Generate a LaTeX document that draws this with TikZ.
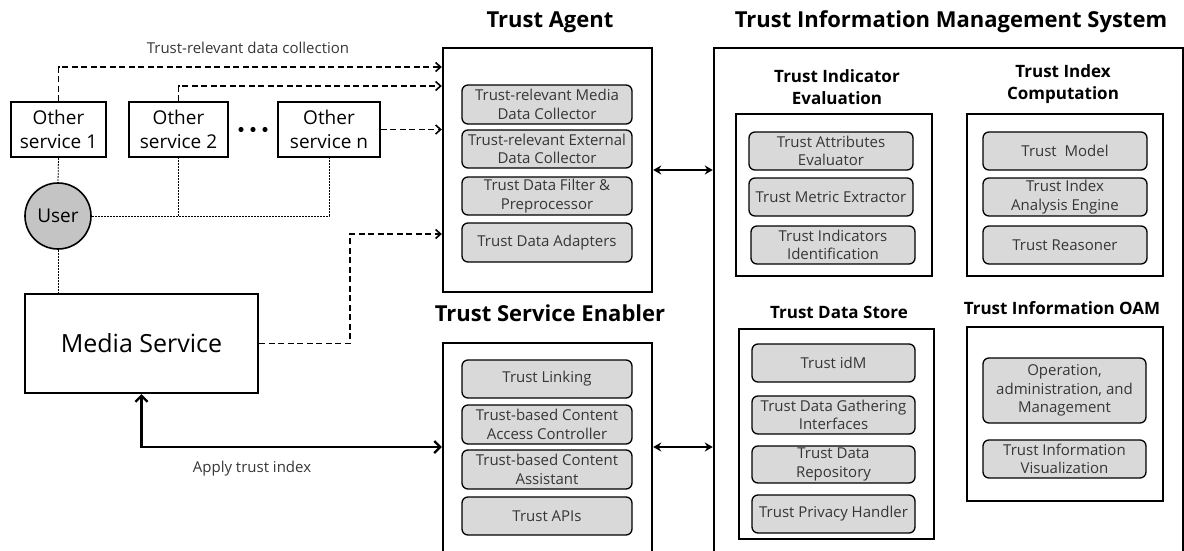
\documentclass[tikz,border=0pt]{standalone}
\usepackage{fontspec}
\setmainfont{Open Sans}
\usetikzlibrary{arrows.meta,calc}
\definecolor{compgray}{HTML}{D9D9D9}
\definecolor{usergray}{HTML}{C4C4C4}
\definecolor{comptext}{HTML}{363636}
% box from corner (x1,y1) to (x2,y2), in picture units (1 unit = 1pt, y downwards)
\newcommand\bx[7]{\node[#2, minimum width={(#5)-(#3)}, minimum height={(#6)-(#4)}] (#1) at ({((#3)+(#5))/2},{((#4)+(#6))/2}) {#7};}
\begin{document}
\begin{tikzpicture}[x=1pt,y=-1pt,
  outerbox/.style={draw, line width=2.4pt, inner sep=0pt},
  subbox/.style={draw, line width=1.3pt, inner sep=0pt},
  comp/.style={draw, line width=1.3pt, rounded corners=6pt, fill=compgray, inner sep=0pt, align=center, text=comptext, font=\fontsize{15}{18.5}\selectfont},
  svc/.style={draw, line width=1.6pt, inner sep=0pt, align=center, font=\fontsize{19}{23.5}\selectfont},
  bigtitle/.style={font=\bfseries\fontsize{22}{26}\selectfont},
  subtitle/.style={font=\bfseries\fontsize{17}{21.5}\selectfont, align=center},
  lbl/.style={font=\fontsize{15}{18}\selectfont, text=comptext},
  dasharrow/.style={dash pattern=on 6pt off 3.5pt, line width=1.6pt, -{Straight Barb[length=5pt,width=9pt,line width=1.6pt]}},
  dotline/.style={dash pattern=on 2pt off 1pt, line width=0.8pt},
  dblarrow/.style={line width=2pt, {Stealth[length=8pt,width=9pt]}-{Stealth[length=8pt,width=9pt]}},
  applyarrow/.style={line width=2.6pt, {Straight Barb[length=6pt,width=12pt,line width=2.2pt]}-{Straight Barb[length=6pt,width=12pt,line width=2.2pt]}}
]
\useasboundingbox (0,0) rectangle (1184,551);

% ---------- left side ----------
\bx{os1}{svc}{11}{102}{106}{157}{Other\\service 1}
\bx{os2}{svc}{129}{102}{228}{157}{Other\\service 2}
\bx{osn}{svc}{278}{102}{380}{157}{Other\\service n}
\fill (241,129.5) circle (2.6) (253,129.5) circle (2.6) (265,129.5) circle (2.6);
\node[circle, draw, line width=1.6pt, fill=usergray, minimum size=66pt, inner sep=0pt, font=\fontsize{19}{23}\selectfont] (user) at (58,216) {User};
\bx{ms}{draw, line width=2.4pt, inner sep=0pt, font=\fontsize{25}{29}\selectfont}{25}{294}{258}{393}{Media Service}

% ---------- Trust Agent ----------
\node[bigtitle] at (550,22) {Trust Agent};
\bx{ta}{outerbox}{443}{48}{652}{292}{}
\bx{ta1}{comp}{462}{85}{632}{124}{Trust-relevant Media\\Data Collector}
\bx{ta2}{comp}{462}{130}{632}{168}{Trust-relevant External\\Data Collector}
\bx{ta3}{comp}{462}{177}{632}{215}{Trust Data Filter \&\\Preprocessor}
\bx{ta4}{comp}{462}{223}{632}{262}{Trust Data Adapters}

% ---------- Trust Service Enabler ----------
\node[bigtitle] at (550,313) {Trust Service Enabler};
\bx{tse}{outerbox}{443}{343}{652}{560}{}
\bx{tse1}{comp}{462}{360}{632}{398}{Trust Linking}
\bx{tse2}{comp}{462}{405}{632}{444}{Trust-based Content\\Access Controller}
\bx{tse3}{comp}{462}{450}{632}{489}{Trust-based Content\\Assistant}
\bx{tse4}{comp}{462}{497}{632}{535}{Trust APIs}

% ---------- TIMS ----------
\node[bigtitle] at (951,22) {Trust Information Management System};
\bx{tims}{outerbox}{714}{48}{1183}{560}{}

\node[subtitle] at (837,87) {Trust Indicator\\Evaluation};
\bx{tie}{subbox}{736}{114}{932}{276}{}
\bx{tie1}{comp}{749}{132}{913}{170}{Trust Attributes\\Evaluator}
\bx{tie2}{comp}{749}{178}{913}{216}{Trust Metric Extractor}
\bx{tie3}{comp}{751}{226}{915}{264}{Trust Indicators\\Identification}

\node[subtitle] at (1063,84) {Trust Index\\Computation};
\bx{tic}{subbox}{967}{114}{1163}{276}{}
\bx{tic1}{comp}{983}{132}{1147}{170}{Trust\ \ Model}
\bx{tic2}{comp}{983}{178}{1147}{216}{Trust Index\\Analysis Engine}
\bx{tic3}{comp}{983}{226}{1147}{264}{Trust Reasoner}

\node[subtitle] at (839,312) {Trust Data Store};
\bx{tds}{subbox}{739}{329}{934}{539}{}
\bx{tds1}{comp}{752}{344}{915}{382}{Trust idM}
\bx{tds2}{comp}{752}{396}{915}{434}{Trust Data Gathering\\Interfaces}
\bx{tds3}{comp}{752}{446}{915}{483}{Trust Data\\Repository}
\bx{tds4}{comp}{752}{495}{915}{533}{Trust Privacy Handler}

\node[subtitle] at (1062,308) {Trust Information OAM};
\bx{oam}{subbox}{967}{327}{1163}{501}{}
\bx{oam1}{comp}{983}{358}{1146}{423}{Operation,\\administration, and\\Management}
\bx{oam2}{comp}{983}{440}{1146}{478}{Trust Information\\Visualization}

% ---------- connectors ----------
\coordinate (y67) at (0,67);
\coordinate (y86) at (0,86);
\coordinate (y170) at (0,170);
\coordinate (y447) at (0,447);
\coordinate (bendpt) at (350,234);

\node[lbl] at (248,48) {Trust-relevant data collection};
\draw[dasharrow] (os1.north) |- (ta.west |- y67);
\draw[dasharrow] (os2.north) |- (ta.west |- y86);
\draw[dasharrow] (osn.east) -- (ta.west |- osn.east);
\draw[dasharrow] (ms.east) -| (bendpt) -- (ta.west |- bendpt);

\draw[dotline] (os1.south) -- (user.north);
\draw[dotline] (user.south) -- (user.south |- ms.north);
\draw[dotline] (user.east) -| (os2.south);
\draw[dotline] (user.east) -| (osn.south);

\draw[applyarrow] (ms.south) |- (tse.west |- y447);
\node[lbl] at (252,469) {Apply trust index};

\draw[dblarrow] (ta.east |- y170) -- (tims.west |- y170);
\draw[dblarrow] (tse.east |- y447) -- (tims.west |- y447);
\end{tikzpicture}
\end{document}
